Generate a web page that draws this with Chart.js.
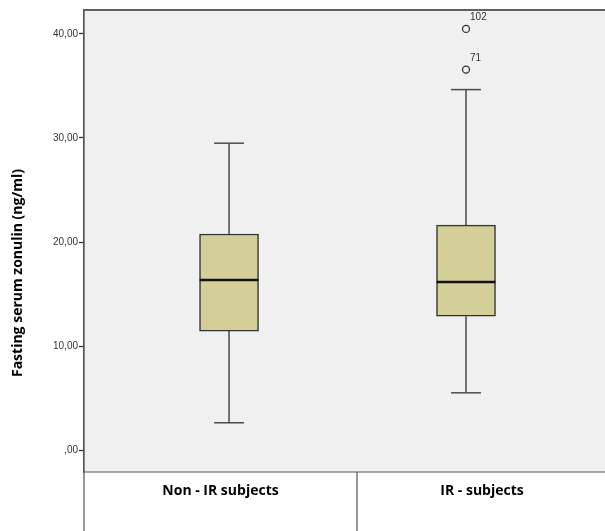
<!DOCTYPE html>
<html>
<head>
<meta charset="utf-8">
<script src="https://cdn.jsdelivr.net/npm/chart.js@4.4.0/dist/chart.umd.min.js"></script>
<style>
    html, body { margin: 0; padding: 0; background: #ffffff; }
    #wrap { width: 605px; height: 531px; }
</style>
</head>
<body>
<div id="wrap"><canvas id="chart" width="605" height="531"></canvas></div>
<script>
// Box plot values
const groups = ['Non - IR subjects', 'IR - subjects'];
const groupX = [1, 2];
const whiskerLow = [2.63, 5.51];
const q1 = [11.44, 12.88];
const median = [16.35, 16.15];
const q3 = [20.77, 21.63];
const whiskerHigh = [29.5, 34.65];
const outlierGroup = [2, 2];
const outlierValue = [40.48, 36.57];
const outlierId = ['102', '71'];
const yTicks = [0, 10, 20, 30, 40];

const capHalf = 0.063;   // whisker cap half width (x units)
const medHalf = 0.124;   // median line half width (x units)
const lineColor = '#4a4a4a';

function segment(x1, y1, x2, y2, color, width, order) {
    return {
        type: 'line',
        data: [{ x: x1, y: y1 }, { x: x2, y: y2 }],
        borderColor: color,
        borderWidth: width,
        pointRadius: 0,
        fill: false,
        order: order
    };
}

const datasets = [];

// boxes (Q1 - Q3) as floating bars
datasets.push({
    type: 'bar',
    data: groupX.map((x, i) => ({ x: x, y: [q1[i], q3[i]] })),
    backgroundColor: '#d4cf99',
    borderColor: '#333333',
    borderWidth: 1.5,
    borderSkipped: false,
    barThickness: 59,
    order: 2
});

groupX.forEach((x, i) => {
    datasets.push(segment(x, q3[i], x, whiskerHigh[i], lineColor, 1.5, 3));
    datasets.push(segment(x, whiskerLow[i], x, q1[i], lineColor, 1.5, 3));
    datasets.push(segment(x - capHalf, whiskerHigh[i], x + capHalf, whiskerHigh[i], lineColor, 1.5, 3));
    datasets.push(segment(x - capHalf, whiskerLow[i], x + capHalf, whiskerLow[i], lineColor, 1.5, 3));
    datasets.push(segment(x - medHalf, median[i], x + medHalf, median[i], '#111111', 2.5, 0));
});

// outliers
datasets.push({
    type: 'scatter',
    data: outlierValue.map((v, i) => ({ x: groupX[outlierGroup[i] - 1], y: v })),
    pointStyle: 'circle',
    pointRadius: 3.5,
    pointBackgroundColor: '#f0f0f0',
    pointBorderColor: '#333333',
    pointBorderWidth: 1.3,
    order: 1
});

const frame = {
    id: 'frame',
    beforeDraw(chart) {
        const { ctx, chartArea: a } = chart;
        ctx.save();
        ctx.fillStyle = '#f0f0f0';
        ctx.fillRect(a.left, a.top, a.right - a.left, a.bottom - a.top);
        ctx.restore();
    },
    afterDraw(chart) {
        const { ctx, chartArea: a } = chart;
        const h = chart.height;
        const split = 357;
        ctx.save();

        // top border
        ctx.strokeStyle = '#606060';
        ctx.lineWidth = 2;
        ctx.beginPath();
        ctx.moveTo(a.left, a.top);
        ctx.lineTo(a.right, a.top);
        ctx.stroke();

        // bottom border and category table
        ctx.strokeStyle = '#555555';
        ctx.lineWidth = 1.2;
        ctx.beginPath();
        ctx.moveTo(a.left, a.bottom);
        ctx.lineTo(a.right, a.bottom);
        ctx.moveTo(a.left, a.top);
        ctx.lineTo(a.left, h);
        ctx.moveTo(split, a.bottom);
        ctx.lineTo(split, h);
        ctx.stroke();

        // category labels
        ctx.fillStyle = '#000000';
        ctx.font = 'bold 14px "Open Sans"';
        ctx.textAlign = 'center';
        ctx.textBaseline = 'middle';
        ctx.fillText(groups[0], (a.left + split) / 2, 491);
        ctx.fillText(groups[1], (split + a.right) / 2 + 1, 491);

        // y axis title
        ctx.translate(18, 273);
        ctx.rotate(-Math.PI / 2);
        ctx.fillText('Fasting serum zonulin (ng/ml)', 0, 0);
        ctx.setTransform(1, 0, 0, 1, 0, 0);

        // outlier case numbers
        const meta = chart.getDatasetMeta(chart.data.datasets.length - 1);
        ctx.font = '10px "Liberation Sans"';
        ctx.fillStyle = '#333333';
        ctx.textAlign = 'left';
        meta.data.forEach((pt, i) => {
            ctx.fillText(outlierId[i], pt.x + 4, pt.y - 11.5);
        });
        ctx.restore();
    }
};

new Chart(document.getElementById('chart'), {
    data: { datasets: datasets },
    options: {
        responsive: false,
        animation: false,
        layout: { autoPadding: false, padding: { top: 10, bottom: 59, left: 0, right: 0 } },
        plugins: {
            legend: { display: false },
            tooltip: { enabled: false }
        },
        scales: {
            x: {
                type: 'linear',
                display: false,
                offset: false,
                min: 0.388,
                max: 2.5865
            },
            y: {
                type: 'linear',
                min: -2.1,
                max: 42.3,
                afterFit: (s) => { s.width = 84; },
                afterBuildTicks: (s) => { s.ticks = yTicks.map(v => ({ value: v })); },
                grid: {
                    drawOnChartArea: false,
                    drawTicks: true,
                    tickLength: 5,
                    tickWidth: 1.3,
                    tickColor: '#333333'
                },
                border: { display: true, color: '#555555', width: 1.2 },
                ticks: {
                    padding: 1,
                    color: '#333333',
                    font: { family: '"Liberation Sans"', size: 10 },
                    callback: (v) => v === 0 ? ',00' : v.toFixed(2).replace('.', ',')
                }
            }
        }
    },
    plugins: [frame]
});
</script>
</body>
</html>
